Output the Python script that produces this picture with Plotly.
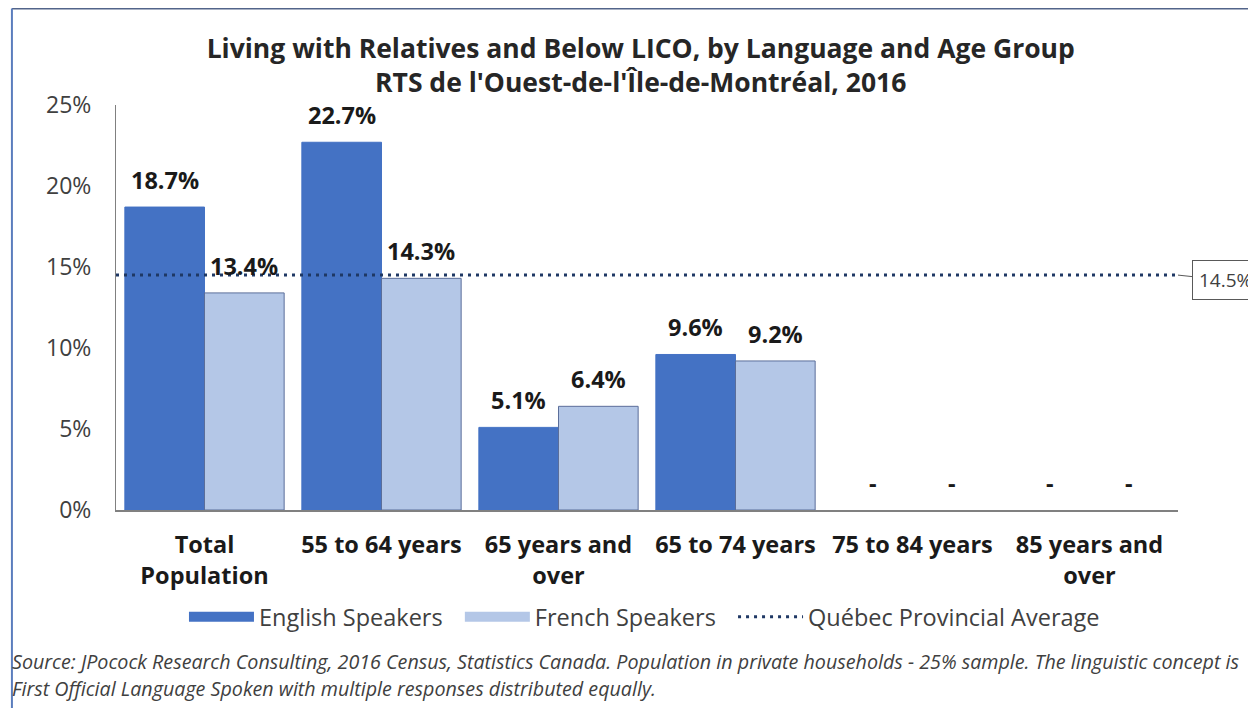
import plotly.graph_objects as go

# ── Data ─────────────────────────────────────────────────────────────
categories = [
    "Total<br>Population",
    "55 to 64 years",
    "65 years and<br>over",
    "65 to 74 years",
    "75 to 84 years",
    "85 years and<br>over",
]
english = [18.7, 22.7, 5.1, 9.6, None, None]
french = [13.4, 14.3, 6.4, 9.2, None, None]
quebec_avg = 14.5

FONT = "Open Sans"
EN_COLOR = "#4472C4"
FR_COLOR = "#B4C7E7"
FR_EDGE = "#5B6E9A"
AVG_COLOR = "#1F3864"
TEXT = "#404040"
DASH = "3px,5px"
PAD = "\u00a0\u00a0"  # extra gap between legend entries

fig = go.Figure()

fig.add_trace(go.Bar(
    x=categories, y=english, name="English Speakers", showlegend=False,
    marker=dict(color=EN_COLOR, line=dict(color=EN_COLOR, width=1)),
))
fig.add_trace(go.Bar(
    x=categories, y=french, name="French Speakers", showlegend=False,
    marker=dict(color=FR_COLOR, line=dict(color=FR_EDGE, width=1)),
))

# provincial average — dotted line across the full plot width
fig.add_trace(go.Scatter(
    x=[0, 1], y=[quebec_avg, quebec_avg], xaxis="x2",
    mode="lines", name="Québec Provincial Average", showlegend=False,
    line=dict(color=AVG_COLOR, width=3, dash=DASH),
))

# legend entries with wide swatches
for name, color, width, dash in [
    ("English Speakers" + PAD, EN_COLOR, 16, "solid"),
    ("French Speakers" + PAD, FR_COLOR, 16, "solid"),
    ("Québec Provincial Average", AVG_COLOR, 3, DASH),
]:
    fig.add_trace(go.Scatter(
        x=[None], y=[None], mode="lines", name=name,
        line=dict(color=color, width=width, dash=dash),
    ))

# data labels above each bar (dash for suppressed values)
half = 177 * 0.9 / 4
for series, shift in [(english, -half), (french, half)]:
    for cat, v in zip(categories, series):
        fig.add_annotation(
            x=cat, y=v if v is not None else 0, xref="x", yref="y",
            text=f"{v}%" if v is not None else "-",
            showarrow=False, xshift=shift, yshift=27, yanchor="middle",
            font=dict(family=FONT, size=23.5, color="#1a1a1a", weight="bold"),
        )

# callout for the average
fig.add_annotation(
    x=1.0, y=quebec_avg, xref="paper", yref="y",
    text=f"{quebec_avg}%", showarrow=True, arrowhead=0, arrowwidth=1,
    arrowcolor="#595959", ax=47, ay=5,
    bordercolor="#595959", borderwidth=1, borderpad=6, bgcolor="white",
    font=dict(family=FONT, size=19, color=TEXT),
)

# footnote
fig.add_annotation(
    x=-0.1, y=-0.375, xref="paper", yref="paper", xanchor="left", yanchor="middle",
    text="<i>Source: JPocock Research Consulting, 2016 Census, Statistics Canada. "
         "Population in private households - 25% sample. The linguistic concept is</i>",
    showarrow=False, font=dict(family=FONT, size=19.7, color=TEXT),
)
fig.add_annotation(
    x=-0.1, y=-0.44, xref="paper", yref="paper", xanchor="left", yanchor="middle",
    text="<i>First Official Language Spoken with multiple responses distributed equally.</i>",
    showarrow=False, font=dict(family=FONT, size=19.7, color=TEXT),
)

# outer frame
fig.add_shape(type="line", xref="paper", yref="paper", x0=-0.098, x1=1.08,
              y0=1.238, y1=1.238, line=dict(color="#52648A", width=2))
fig.add_shape(type="line", xref="paper", yref="paper", x0=-0.098, x1=-0.098,
              y0=1.238, y1=-0.5, line=dict(color="#5B7DBD", width=2))

# page body adds an 8px margin, so the figure is 8px smaller
fig.update_layout(
    width=1248, height=700,
    margin=dict(l=108, r=78, t=97, b=198),
    paper_bgcolor="white", plot_bgcolor="white",
    barmode="group", bargap=0.1, bargroupgap=0,
    title=dict(
        text="<b>Living with Relatives and Below LICO, by Language and Age Group<br>"
             "RTS de l'Ouest-de-l'Île-de-Montréal, 2016</b>",
        x=0.507, xanchor="center", y=0.929, yanchor="top", yref="container",
        font=dict(family=FONT, size=26.5, color="#262626"),
    ),
    font=dict(family=FONT, color=TEXT),
    legend=dict(
        orientation="h", x=0.064, xanchor="left", y=-0.264, yanchor="middle",
        font=dict(family=FONT, size=23.5, color=TEXT), traceorder="normal",
        itemwidth=65,
    ),
    xaxis=dict(
        showline=True, linecolor="#808080", linewidth=2, ticks="",
        tickfont=dict(family=FONT, size=23.5, color="#1a1a1a", weight="bold"),
        ticklabelstandoff=13,
    ),
    xaxis2=dict(overlaying="x", range=[0, 1], visible=False),
    yaxis=dict(
        range=[0, 25], dtick=5, ticksuffix="%", showgrid=False,
        showline=True, linecolor="#808080", linewidth=1, ticks="", zeroline=False,
        tickfont=dict(family=FONT, size=23, color=TEXT), ticklabelstandoff=19,
    ),
)

fig.write_html("out.html")
